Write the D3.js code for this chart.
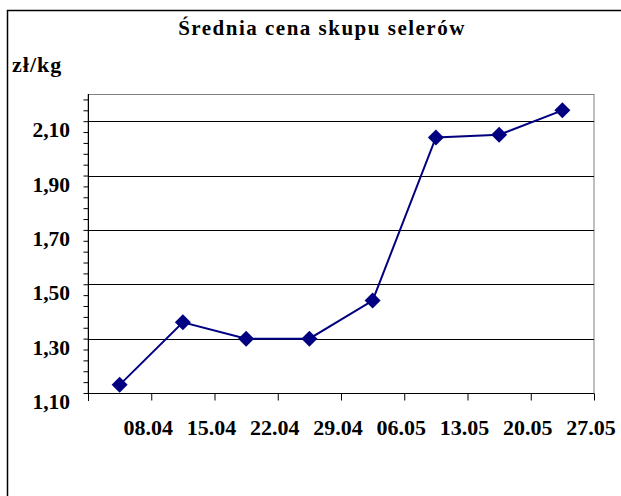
<!DOCTYPE html>
<html>
<head>
<meta charset="utf-8">
<script src="https://cdn.jsdelivr.net/npm/d3@7"></script>
<style>
  html, body { margin: 0; padding: 0; background: #fff; }
  svg { display: block; }
  text { font-family: "Liberation Serif", "Times New Roman", serif; font-weight: bold; fill: #000; }
</style>
</head>
<body>
<svg id="chart" width="621" height="496"></svg>
<script>
// categories (week dates) and average celery purchase price, zł/kg
const dates = ['08.04', '15.04', '22.04', '29.04', '06.05', '13.05', '20.05', '27.05'];
const prices = [1.13, 1.36, 1.30, 1.30, 1.44, 2.04, 2.05, 2.14];
const yMajorTicks = [1.10, 1.30, 1.50, 1.70, 1.90, 2.10];

const svg = d3.select('#chart');

const plot = { left: 88, top: 94, right: 594, bottom: 393 };

// chart area border (cropped on right and bottom)
svg.append('rect')
  .attr('x', 7.5)
  .attr('y', 10.5)
  .attr('width', 700)
  .attr('height', 600)
  .attr('fill', '#fff')
  .attr('stroke', '#000')
  .attr('stroke-width', 1.5);

const x = d3.scaleBand()
  .domain(dates)
  .range([plot.left, plot.right])
  .paddingInner(0)
  .paddingOuter(0);

const y = d3.scaleLinear()
  .domain([1.10, 2.20])
  .range([plot.bottom, plot.top]);

// plot area with gray top/right border
svg.append('rect')
  .attr('x', plot.left)
  .attr('y', plot.top + 0.5)
  .attr('width', plot.right - plot.left)
  .attr('height', plot.bottom - plot.top)
  .attr('fill', '#fff')
  .attr('stroke', '#808080')
  .attr('stroke-width', 1);

// horizontal gridlines
svg.append('g')
  .selectAll('line')
  .data(yMajorTicks.slice(1))
  .join('line')
  .attr('x1', plot.left)
  .attr('x2', plot.right)
  .attr('y1', d => Math.round(y(d)) + 0.5)
  .attr('y2', d => Math.round(y(d)) + 0.5)
  .attr('stroke', '#000')
  .attr('stroke-width', 1);

// y axis: minor ticks every 0.04
const minorTicks = d3.range(0, 28).map(k => +(1.10 + k * 0.04).toFixed(2));
const yAxis = svg.append('g')
  .attr('transform', `translate(${plot.left + 0.5},0)`)
  .call(d3.axisLeft(y).tickValues(minorTicks).tickSize(5).tickFormat(''));
yAxis.select('.domain').attr('stroke', '#000').attr('d', `M0,${plot.top}V${plot.bottom + 8}`);
yAxis.selectAll('.tick line').attr('stroke', '#000');

// y labels (shifted down like the original rendering)
svg.append('g')
  .selectAll('text')
  .data(yMajorTicks)
  .join('text')
  .attr('x', 70)
  .attr('y', d => y(d) + 16)
  .attr('text-anchor', 'end')
  .style('font-size', '21.5px')
  .text(d => d.toFixed(2).replace('.', ','));

// x axis: ticks at band boundaries
const xIdx = d3.scaleLinear().domain([0, dates.length]).range([plot.left, plot.right]);
const xAxis = svg.append('g')
  .attr('transform', `translate(0,${plot.bottom + 0.5})`)
  .call(d3.axisBottom(xIdx).tickValues(d3.range(0, dates.length + 1)).tickSize(7).tickFormat(''));
xAxis.select('.domain').attr('stroke', '#000').attr('d', `M${plot.left},0H${plot.right}`);
xAxis.selectAll('.tick line').attr('stroke', '#000');

// x labels sit at the right edge of each category
svg.append('g')
  .selectAll('text')
  .data(dates)
  .join('text')
  .attr('x', d => x(d) + x.bandwidth() - 3)
  .attr('y', 435)
  .attr('text-anchor', 'middle')
  .style('font-size', '22px')
  .text(d => d);

// series line
const series = dates.map((d, i) => ({ date: d, value: prices[i] }));
svg.append('path')
  .datum(series)
  .attr('fill', 'none')
  .attr('stroke', '#000080')
  .attr('stroke-width', 2)
  .attr('d', d3.line()
    .x(d => x(d.date) + x.bandwidth() / 2)
    .y(d => y(d.value)));

// diamond markers
svg.append('g')
  .selectAll('path')
  .data(series)
  .join('path')
  .attr('transform', d => `translate(${x(d.date) + x.bandwidth() / 2},${y(d.value)})`)
  .attr('d', 'M0,-8L8,0L0,8L-8,0Z')
  .attr('fill', '#000080');

// title and unit
svg.append('text')
  .attr('x', 322)
  .attr('y', 35)
  .attr('text-anchor', 'middle')
  .style('font-size', '21px')
  .style('letter-spacing', '1.5px')
  .text('Średnia cena skupu selerów');

svg.append('text')
  .attr('x', 12)
  .attr('y', 72)
  .style('font-size', '22px')
  .style('letter-spacing', '1px')
  .text('zł/kg');
</script>
</body>
</html>
